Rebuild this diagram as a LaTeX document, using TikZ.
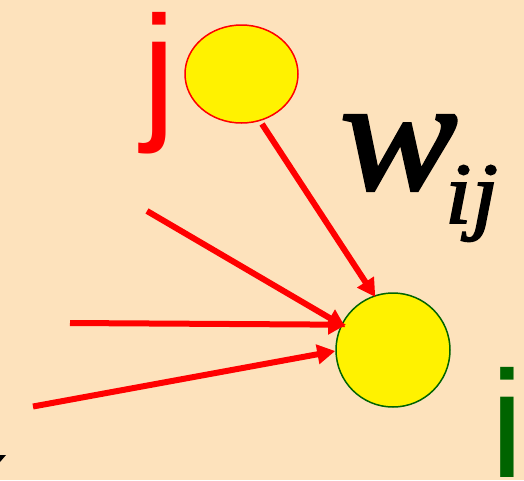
\documentclass[tikz,border=0pt]{standalone}
\usepackage{fontspec}
\setmainfont{Liberation Sans}
\newfontfamily\wfont{Liberation Serif Italic}[FakeBold=2, FakeStretch=1.1]
\newfontfamily\ijfont{Liberation Serif Italic}[FakeBold=2, FakeStretch=1.1]
\usetikzlibrary{shapes.geometric,arrows.meta}
\definecolor{bgpeach}{RGB}{253,226,188}
\definecolor{dkgreen}{RGB}{0,100,0}
\tikzset{
  arr/.style={draw=red, line width=6pt, -{Triangle[length=18pt,width=19pt]}},
  neuron/.style={fill=yellow, line width=1.5pt, inner sep=0pt},
  lbl/.style={inner sep=0pt, outer sep=0pt, anchor=base west}
}
\begin{document}
\begin{tikzpicture}[x=1pt,y=-1pt]
\fill[bgpeach] (0,0) rectangle (524,480);
\useasboundingbox (0,0) rectangle (524,480);
% neurons
\node[neuron, ellipse, draw=red, minimum width=113pt, minimum height=98pt] (nj) at (241.5,74) {};
\node[neuron, circle, draw=dkgreen, minimum size=114pt] (ni) at (393,350) {};
% labels
\node[lbl, text=red] (lj) at (142,122) {\fontsize{152}{152}\selectfont j};
\node[lbl, text=dkgreen] (li) at (490,477) {\fontsize{152}{152}\selectfont i};
\node[lbl] (lw) at (340,189) {\wfont\fontsize{160}{160}\selectfont w};
\node[lbl] (lij) at (445,223) {\ijfont\fontsize{87}{87}\selectfont ij};
% free ends
\coordinate (s1) at (262,124);
\coordinate (s2) at (147,211);
\coordinate (s3) at (70,323);
\coordinate (s4) at (33,406.5);
% connectors
\draw[arr, shorten >=-2pt] (s1) -- (ni.109);
\draw[arr, shorten >=-5pt] (s2) -- (ni.154);
\draw[arr, shorten >=-5pt] (s3) -- (ni.154);
\draw[arr] (s4) -- (ni.181);
% cropped mark at lower left
\fill[black] (0,455) -- (6,455) -- (0,462) -- cycle;
\end{tikzpicture}
\end{document}
